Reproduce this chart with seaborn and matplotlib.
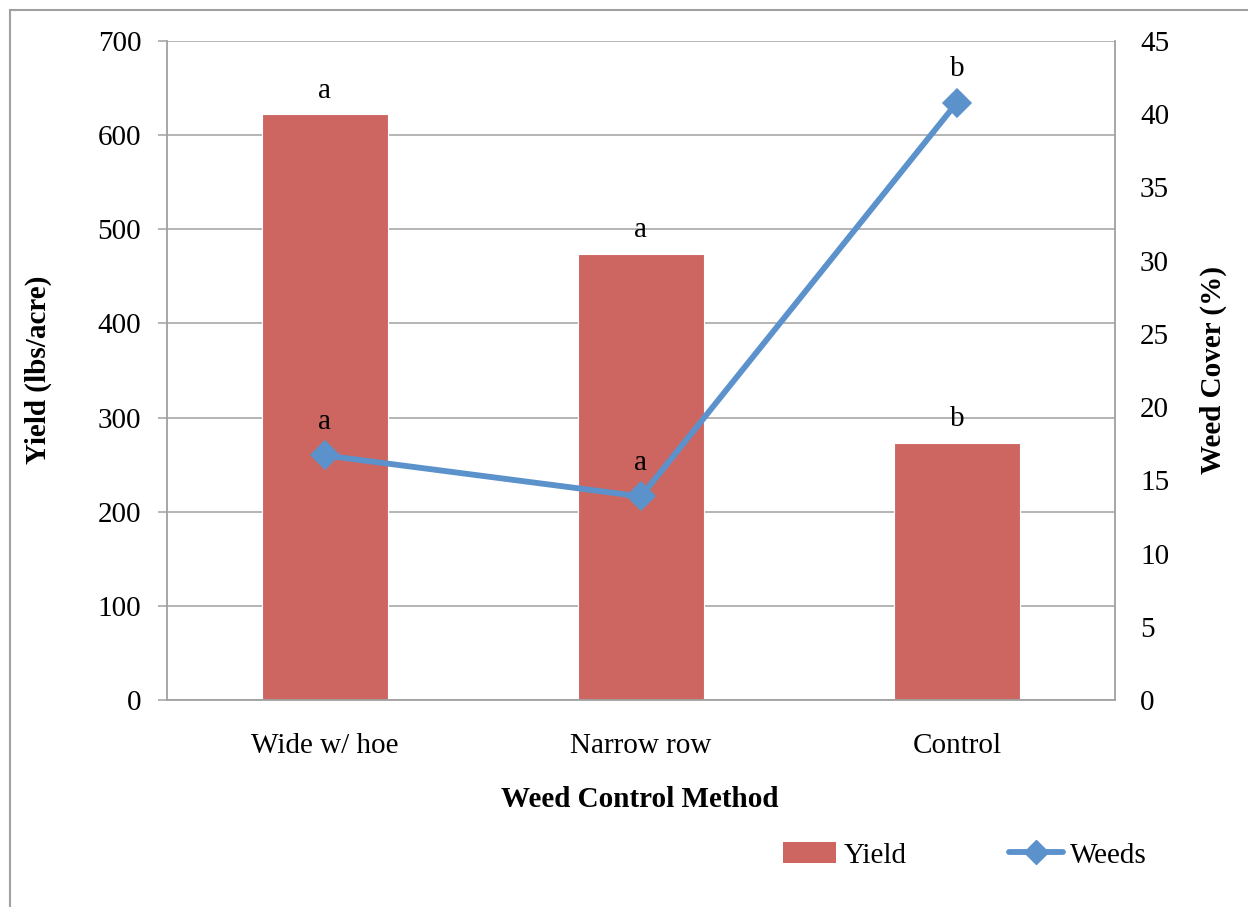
"""
Yield bars with weed cover line on a second axis, by weed control method.
"""

import numpy as np
import pandas as pd
import seaborn as sns
import matplotlib.pyplot as plt
from matplotlib.patches import Rectangle, Patch
from matplotlib.lines import Line2D

methods = ["Wide w/ hoe", "Narrow row", "Control"]
yield_lbs = [622, 474, 273]
weed_cover = [16.7, 13.9, 40.8]
yield_letters = ["a", "a", "b"]
weed_letters = ["a", "a", "b"]

BAR_COLOR = "#CD6660"
LINE_COLOR = "#5B92CC"
GRID_COLOR = "#A0A0A0"
FS = 21

df = pd.DataFrame({"method": methods, "yield": yield_lbs, "weeds": weed_cover})

sns.set_style("white")
plt.rcParams["font.family"] = ["Liberation Serif", "DejaVu Serif"]
plt.rcParams["font.size"] = FS
plt.rcParams["text.color"] = "black"
plt.rcParams["xtick.labelcolor"] = "black"
plt.rcParams["ytick.labelcolor"] = "black"

fig = plt.figure(figsize=(12.48, 9.07), dpi=100)
ax = fig.add_axes([0.1338, 0.2282, 0.7596, 0.7266])

sns.barplot(data=df, x="method", y="yield", ax=ax, color=BAR_COLOR,
            width=0.4, saturation=1, edgecolor="white", linewidth=0.8, zorder=2)
ax.set_ylim(0, 700)
ax.set_yticks(np.arange(0, 701, 100))
ax.set_xlim(-0.5, 2.5)
ax.yaxis.grid(True, color=GRID_COLOR, linewidth=1.1, zorder=0)
ax.set_axisbelow(True)
ax.set_xlabel("")
ax.set_ylabel("")
ax.tick_params(axis="y", length=6.5, width=1.1, color=GRID_COLOR, pad=12, labelsize=FS,
               labelcolor="black")
ax.tick_params(axis="x", length=0, pad=24, labelsize=FS, labelcolor="black")
for side in ["left", "bottom", "right"]:
    ax.spines[side].set_color(GRID_COLOR)
    ax.spines[side].set_linewidth(1.3)
ax.spines["top"].set_visible(False)

for i, (val, lab) in enumerate(zip(yield_lbs, yield_letters)):
    ax.annotate(lab, (i, val), xytext=(0, 17), textcoords="offset points",
                ha="center", va="center", fontsize=FS, color="black")

ax2 = ax.twinx()
sns.pointplot(data=df, x="method", y="weeds", ax=ax2, color=LINE_COLOR,
              markers="D", linestyles="-", markersize=12, linewidth=4.2)
ax2.set_ylim(0, 45)
ax2.set_yticks(np.arange(0, 46, 5))
ax2.set_xlim(-0.5, 2.5)
ax2.set_ylabel("")
ax2.set_xlabel("")
ax2.tick_params(axis="y", length=0, pad=18, labelsize=FS, labelcolor="black")
for side in ["top", "left", "bottom", "right"]:
    ax2.spines[side].set_visible(False)

for i, (val, lab) in enumerate(zip(weed_cover, weed_letters)):
    ax2.annotate(lab, (i, val), xytext=(0, 24), textcoords="offset points",
                 ha="center", va="center", fontsize=FS, color="black")

fig.text(0.031, 0.592, "Yield (lbs/acre)", rotation=90, ha="center", va="center",
         fontsize=FS, fontweight="bold")
fig.text(0.972, 0.592, "Weed Cover (%)", rotation=90, ha="center", va="center",
         fontsize=FS, fontweight="bold")
fig.text(0.513, 0.118, "Weed Control Method", ha="center", va="center",
         fontsize=FS, fontweight="bold")

handles = [Patch(facecolor=BAR_COLOR, edgecolor="none"),
           Line2D([0], [0], color=LINE_COLOR, lw=4.2, marker="D", markersize=12)]
fig.legend(handles, ["Yield", "Weeds"], loc="center", bbox_to_anchor=(0.773, 0.057),
           ncol=2, frameon=False, fontsize=FS, handlelength=1.85, handletextpad=0.25,
           columnspacing=3.5)

# outer chart frame (cropped at right and bottom in the original)
fig.add_artist(Rectangle((10 / 1248, -0.1), 1.2, 1.1 - 10 / 907, transform=fig.transFigure,
                         fill=False, edgecolor=GRID_COLOR, linewidth=1.5))

fig.savefig("out.png", dpi=100)
plt.close(fig)
